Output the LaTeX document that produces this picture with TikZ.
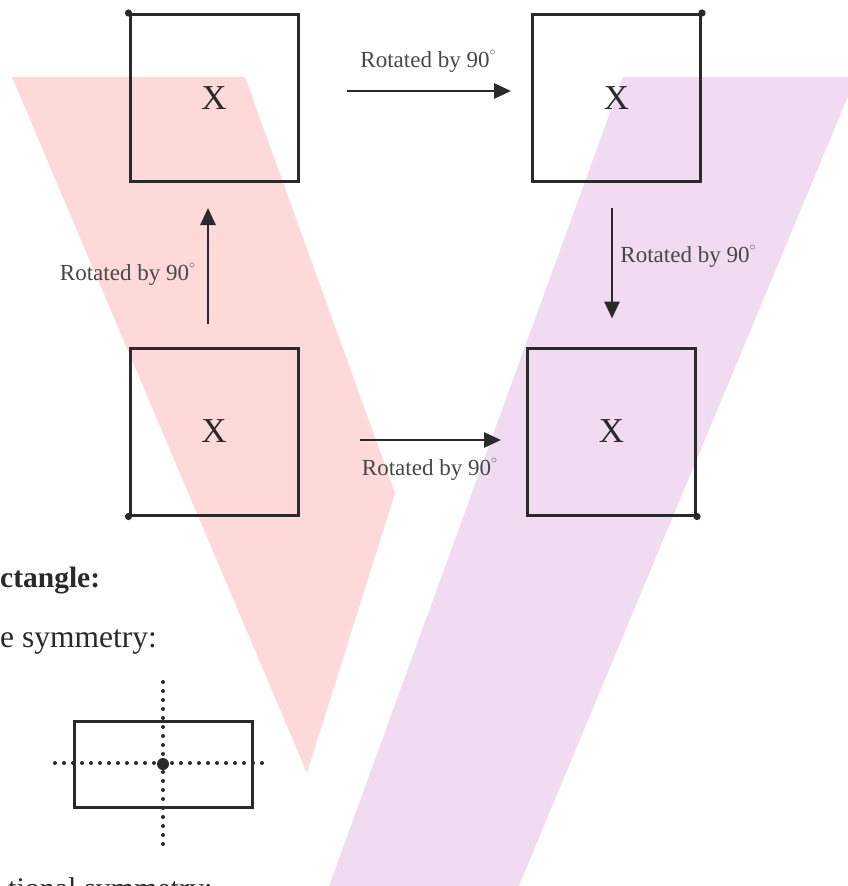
\documentclass[tikz,border=0pt]{standalone}
\usepackage{fontspec}
\setmainfont{Liberation Serif}
\usetikzlibrary{arrows.meta}
\definecolor{pinkband}{HTML}{FDDAD9}
\definecolor{purpleband}{HTML}{F1DBF1}
\definecolor{inkc}{HTML}{2A2A2A}
\definecolor{labelc}{HTML}{474747}
\newcommand{\degsym}{\raisebox{0.5em}{\fontsize{12}{12}\selectfont$\circ$}}
\tikzset{
  sqbox/.style={draw=inkc, line width=3pt, minimum width=168pt, minimum height=167pt, inner sep=0pt, text=inkc, font=\fontsize{35}{40}\selectfont},
  rotarrow/.style={draw=inkc, line width=2.8pt, -{Triangle[length=17pt,width=15pt]}},
  rotlabel/.style={text=labelc, font=\fontsize{23}{27}\selectfont, anchor=base, inner sep=0pt},
  cornerdot/.style={fill=inkc, draw=none},
  bodytext/.style={text=inkc, font=\fontsize{31.5}{36}\selectfont, inner sep=0pt},
  dotline/.style={draw=inkc, line width=4pt, line cap=round, dash pattern=on 0pt off 9pt}
}
\begin{document}
\begin{tikzpicture}[x=1pt, y=-1pt]
\useasboundingbox (0,0) rectangle (848,886);
\clip (0,0) rectangle (848,886);
\fill[white] (0,0) rectangle (848,886);
% coloured bands
\fill[pinkband] (12,77) -- (245,77) -- (395,493) -- (307,773) -- cycle;
\fill[purpleband] (623,77) -- (856,77) -- (513,900) -- (324,900) -- cycle;
% squares
\node[sqbox] (TL) at (214,98) {X};
\node[sqbox] (TR) at (616.5,98) {X};
\node[sqbox] (BL) at (214,431.5) {X};
\node[sqbox] (BR) at (611.5,431.5) {X};
% corner dots
\fill[cornerdot] (TL.north west) circle (3.6pt);
\fill[cornerdot] (TR.north east) circle (3.6pt);
\fill[cornerdot] (BL.south west) circle (3.6pt);
\fill[cornerdot] (BR.south east) circle (3.6pt);
% arrows
\draw[rotarrow, shorten <=47pt, shorten >=20pt] ([yshift=7pt]TL.east) -- ([yshift=7pt]TR.west);
\draw[rotarrow, shorten <=25pt, shorten >=28pt] ([xshift=-4.5pt]TR.south) -- ([xshift=0.5pt]BR.north);
\draw[rotarrow, shorten <=60pt, shorten >=25pt] ([yshift=-8.5pt]BL.east) -- ([yshift=-8.5pt]BR.west);
\draw[rotarrow, shorten <=23pt, shorten >=25pt] ([xshift=-6pt]BL.north) -- ([xshift=-6pt]TL.south);
% labels
\node[rotlabel] (l1) at (428,67) {Rotated by 90\degsym};
\node[rotlabel] (l2) at (688,262) {Rotated by 90\degsym};
\node[rotlabel] (l3) at (429.5,475) {Rotated by 90\degsym};
\node[rotlabel] (l4) at (127.5,280) {Rotated by 90\degsym};
% bottom text (cropped at the picture's edge, as in the reference)
\node[bodytext, anchor=base west, font=\fontsize{29.5}{35}\selectfont\bfseries] (t1) at (0,587) {ctangle:};
\node[bodytext, anchor=base west] (t2) at (0,647) {e symmetry:};
\node[bodytext, anchor=base west, font=\fontsize{30}{36}\selectfont] (t3) at (8,898) {tional symmetry:};
% rectangle with symmetry lines
\node[draw=inkc, line width=3pt, minimum width=178pt, minimum height=86pt, inner sep=0pt] (R) at (163,764) {};
\coordinate (hL) at (55,763);
\coordinate (hR) at (270,763);
\coordinate (vT) at (163,682);
\coordinate (vB) at (163,845);
\draw[dotline] (hL) -- (hR);
\draw[dotline] (vT) -- (vB);
\fill[inkc] (R.center) circle (6pt);
\end{tikzpicture}
\end{document}
